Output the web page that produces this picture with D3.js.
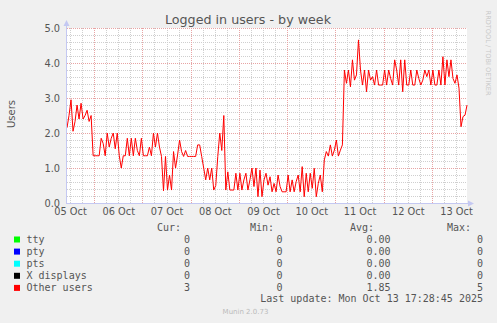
<!DOCTYPE html>
<html>
<head>
<meta charset="utf-8">
<script src="https://cdn.jsdelivr.net/npm/d3@7"></script>
<style>
  body { margin: 0; background: #f0f0f0; }
  svg { display: block; font-family: 'DejaVu Sans', sans-serif; }
  .mono { font-family: 'DejaVu Sans Mono', monospace; font-size: 10px; fill: #555; }
</style>
</head>
<body>
<svg width="497" height="323"></svg>
<script>
// hourly averages of "Other users", starting 05 Oct 10:30 UTC
const seriesStart = Date.UTC(2025, 9, 5, 10, 30);
const lastUpdate = Date.UTC(2025, 9, 13, 17, 28, 45);
const otherUsers = [
    2.15, 2.5, 2.95, 2.05, 2.33, 2.8, 2.4, 2.85, 2.4, 2.5,
    2.65, 2.33, 2.5, 1.35, 1.35, 1.35, 1.35, 1.85, 1.7, 1.35,
    2.0, 1.6, 1.85, 2.0, 1.55, 2.0, 1.35, 1.0, 1.35, 1.35,
    1.85, 1.35, 1.85, 1.35, 1.85, 1.5, 1.35, 1.85, 1.35, 1.35,
    1.35, 1.6, 1.35, 2.0, 1.6, 2.0, 1.6, 1.33, 0.35, 1.33,
    0.37, 0.8, 0.37, 1.47, 1.0, 1.37, 1.8, 1.47, 1.33, 1.5,
    1.33, 1.33, 1.33, 1.33, 1.33, 1.66, 1.66, 1.33, 1.0, 0.66,
    1.0, 0.66, 1.0, 0.37, 0.5, 1.33, 2.0, 1.5, 2.5, 0.37,
    0.89, 0.37, 0.37, 0.37, 0.85, 0.37, 0.85, 0.37, 0.66, 0.85,
    0.37, 0.66, 1.0, 0.47, 1.0, 0.18, 0.94, 0.18, 0.66, 0.85,
    0.51, 0.75, 0.32, 0.56, 0.32, 0.8, 0.47, 0.32, 0.32, 0.32,
    0.8, 0.32, 0.66, 0.32, 0.61, 0.8, 0.32, 1.04, 0.18, 0.85,
    0.32, 0.85, 0.42, 0.99, 0.18, 0.56, 0.8, 0.32, 1.23, 1.47,
    1.34, 1.66, 1.34, 1.51, 1.8, 1.34, 1.51, 1.66, 3.8, 3.42,
    3.8, 3.32, 4.09, 3.51, 3.66, 4.66, 3.8, 3.37, 3.8, 3.18,
    3.8, 3.51, 3.61, 3.37, 3.8, 3.37, 3.37, 3.37, 3.8, 3.37,
    3.8, 3.56, 3.37, 4.09, 3.8, 3.37, 4.09, 3.18, 4.09, 3.37,
    3.37, 3.8, 3.37, 3.37, 3.8, 3.56, 3.37, 3.51, 3.8, 3.61,
    3.8, 3.37, 3.8, 3.37, 3.37, 3.8, 3.37, 4.18, 3.37, 4.09,
    3.61, 4.09, 3.56, 3.42, 3.66, 3.28, 2.18, 2.47, 2.51, 2.8
];

const yTicks = [0, 1, 2, 3, 4, 5];
const legendNames = ['tty', 'pty', 'pts', 'X displays', 'Other users'];
const legendColors = ['#00ff00', '#0000ff', '#00ffff', '#000000', '#ff0000'];
const curValues = ['0', '0', '0', '0', '3'];
const minValues = ['0', '0', '0', '0', '0'];
const avgValues = ['0.00', '0.00', '0.00', '0.00', '1.85'];
const maxValues = ['0', '0', '0', '0', '5'];

const svg = d3.select('svg');
const width = +svg.attr('width');
const height = +svg.attr('height');

const margin = { top: 28, right: 30, bottom: 120, left: 67 };
const innerWidth = width - margin.left - margin.right;
const innerHeight = height - margin.top - margin.bottom;

const data = otherUsers.map((v, i) => ({ t: new Date(seriesStart + i * 3600e3), v }));

const xScale = d3.scaleUtc()
    .domain([new Date(seriesStart), new Date(lastUpdate)])
    .range([0, innerWidth]);

const yScale = d3.scaleLinear()
    .domain([0, 5])
    .range([innerHeight, 0]);

const crisp = v => Math.round(v) + 0.5;
const axisColor = '#c4c8f2';

const g = svg.append('g')
    .attr('transform', `translate(${margin.left}, ${margin.top})`);

g.append('rect')
    .attr('width', innerWidth)
    .attr('height', innerHeight)
    .attr('fill', '#fff');

// grid
const days = d3.utcDay.range(xScale.domain()[0], xScale.domain()[1]);
const sixHours = d3.utcHour.every(6).range(xScale.domain()[0], xScale.domain()[1])
    .filter(d => d.getUTCHours() !== 0);
const yMinor = d3.range(0.2, 5, 0.2).filter(v => Math.abs(v - Math.round(v)) > 0.01);

g.selectAll('.vminor').data(sixHours)
    .enter().append('line')
    .attr('x1', d => crisp(xScale(d))).attr('x2', d => crisp(xScale(d)))
    .attr('y1', 0).attr('y2', innerHeight)
    .attr('stroke', '#cfcfcf').attr('stroke-dasharray', '1,1');

g.selectAll('.hminor').data(yMinor)
    .enter().append('line')
    .attr('x1', 0).attr('x2', innerWidth)
    .attr('y1', d => crisp(yScale(d))).attr('y2', d => crisp(yScale(d)))
    .attr('stroke', '#cfcfcf').attr('stroke-dasharray', '1,1');

g.selectAll('.vmajor').data(days)
    .enter().append('line')
    .attr('x1', d => crisp(xScale(d))).attr('x2', d => crisp(xScale(d)))
    .attr('y1', 0).attr('y2', innerHeight)
    .attr('stroke', '#e8a4a4').attr('stroke-dasharray', '1,1');

g.selectAll('.hmajor').data(yTicks.slice(1))
    .enter().append('line')
    .attr('x1', 0).attr('x2', innerWidth)
    .attr('y1', d => crisp(yScale(d))).attr('y2', d => crisp(yScale(d)))
    .attr('stroke', '#e8a4a4').attr('stroke-dasharray', '1,1');

// axes labels
const yAxisG = g.append('g')
    .call(d3.axisLeft(yScale).tickValues(yTicks).tickFormat(d3.format('.1f')).tickSize(0).tickPadding(7));
yAxisG.select('.domain').remove();
yAxisG.selectAll('text')
    .attr('font-family', 'DejaVu Sans')
    .attr('font-size', '9.8px')
    .attr('fill', '#555');

const labelDays = days.concat([d3.utcDay.floor(xScale.domain()[0])])
    .map(d => d3.utcHour.offset(d, 12));
const xAxisG = g.append('g')
    .attr('transform', `translate(0, ${innerHeight})`)
    .call(d3.axisBottom(xScale).tickValues(labelDays).tickFormat(d3.utcFormat('%d %b')).tickSize(0).tickPadding(5));
xAxisG.select('.domain').remove();
xAxisG.selectAll('text')
    .attr('font-family', 'DejaVu Sans')
    .attr('font-size', '9.8px')
    .attr('fill', '#555');

// the series
g.append('clipPath').attr('id', 'plot-clip')
    .append('rect').attr('width', innerWidth + 1).attr('height', innerHeight);

const line = d3.line()
    .x(d => xScale(d.t))
    .y(d => yScale(d.v));

g.append('path')
    .datum(data)
    .attr('clip-path', 'url(#plot-clip)')
    .attr('d', line)
    .attr('fill', 'none')
    .attr('stroke', '#ff0000')
    .attr('stroke-width', 1);

// axis lines with arrows
g.append('line')
    .attr('x1', -0.5).attr('x2', -0.5)
    .attr('y1', innerHeight).attr('y2', -3)
    .attr('stroke', axisColor);
g.append('path')
    .attr('d', `M-3.5,-2 L2.5,-2 L-0.5,-8 Z`)
    .attr('fill', axisColor);
g.append('line')
    .attr('x1', -1).attr('x2', innerWidth + 3)
    .attr('y1', innerHeight + 0.5).attr('y2', innerHeight + 0.5)
    .attr('stroke', axisColor);
g.append('path')
    .attr('d', `M${innerWidth + 1},${innerHeight - 2.5} L${innerWidth + 1},${innerHeight + 3.5} L${innerWidth + 7},${innerHeight + 0.5} Z`)
    .attr('fill', axisColor);

// titles
svg.append('text')
    .attr('x', 248).attr('y', 24)
    .attr('text-anchor', 'middle')
    .attr('font-size', '12.7px')
    .attr('fill', '#555')
    .text('Logged in users - by week');

svg.append('text')
    .attr('transform', 'translate(15, 114) rotate(-90)')
    .attr('text-anchor', 'middle')
    .attr('font-size', '10px')
    .attr('fill', '#555')
    .text('Users');

svg.append('text')
    .attr('transform', 'translate(486, 53) rotate(90)')
    .attr('text-anchor', 'middle')
    .attr('font-size', '6.6px')
    .attr('fill', '#c8c8c8')
    .text('RRDTOOL / TOBI OETIKER');

// legend
const legendTop = 239.5;
const rowH = 12.1;

const headers = [['Cur:', 181], ['Min:', 274], ['Avg:', 374], ['Max:', 471]];
svg.selectAll('.hdr').data(headers)
    .enter().append('text')
    .attr('class', 'mono')
    .attr('x', d => d[0] && d[1]).attr('y', legendTop - rowH + 0.5)
    .attr('dy', '0.35em')
    .attr('text-anchor', 'end')
    .text(d => d[0]);

const rows = svg.selectAll('.row').data(legendNames)
    .enter().append('g')
    .attr('transform', (d, i) => `translate(0, ${legendTop + i * rowH})`);

rows.append('rect')
    .attr('x', 14).attr('y', -3)
    .attr('width', 6).attr('height', 6)
    .attr('fill', (d, i) => legendColors[i]);

rows.append('text').attr('class', 'mono')
    .attr('x', 26.5).attr('dy', '0.35em')
    .text(d => d);

const cols = [[curValues, 190], [minValues, 282.5], [avgValues, 390.5], [maxValues, 483]];
cols.forEach(([vals, right]) => {
    rows.append('text').attr('class', 'mono')
        .attr('x', right).attr('dy', '0.35em')
        .attr('text-anchor', 'end')
        .text((d, i) => vals[i]);
});

svg.append('text').attr('class', 'mono')
    .attr('x', 483).attr('y', 298.5).attr('dy', '0.35em')
    .attr('text-anchor', 'end')
    .text('Last update: Mon Oct 13 17:28:45 2025');

svg.append('text')
    .attr('x', 245.5).attr('y', 312).attr('dy', '0.35em')
    .attr('text-anchor', 'middle')
    .attr('font-size', '7px')
    .attr('fill', '#bbb')
    .text('Munin 2.0.73');
</script>
</body>
</html>
